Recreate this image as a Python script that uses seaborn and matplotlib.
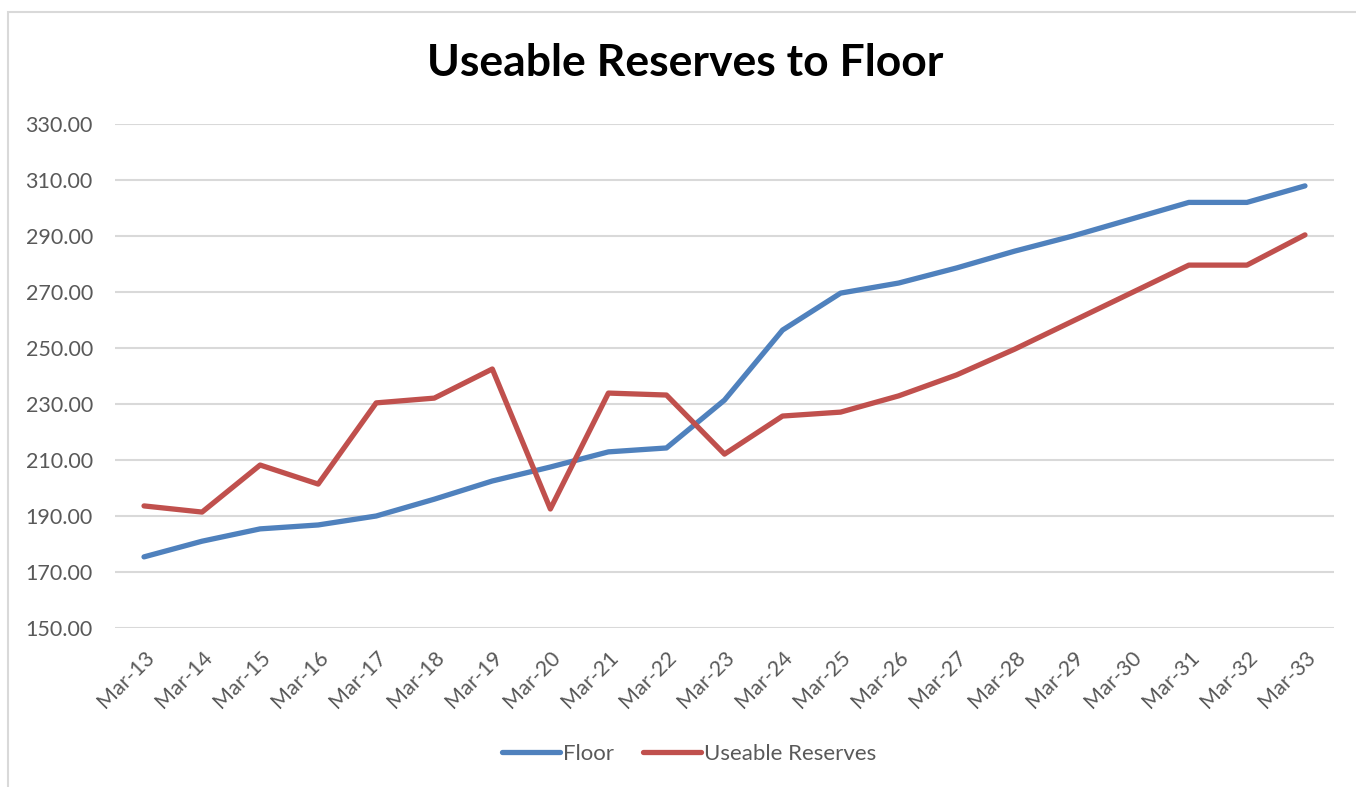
import matplotlib
matplotlib.use("Agg")
import matplotlib.pyplot as plt
import seaborn as sns
import pandas as pd
from matplotlib.patches import Rectangle
from matplotlib.lines import Line2D

periods = ["Mar-13", "Mar-14", "Mar-15", "Mar-16", "Mar-17", "Mar-18", "Mar-19",
           "Mar-20", "Mar-21", "Mar-22", "Mar-23", "Mar-24", "Mar-25", "Mar-26",
           "Mar-27", "Mar-28", "Mar-29", "Mar-30", "Mar-31", "Mar-32", "Mar-33"]
floor = [175.4, 181.0, 185.4, 186.8, 190.0, 196.0, 202.5, 207.5, 212.9, 214.3,
         231.4, 256.4, 269.6, 273.2, 278.6, 284.6, 290.0, 296.0, 302.0, 302.0, 307.9]
reserves = [193.6, 191.4, 208.2, 201.4, 230.4, 232.1, 242.5, 192.5, 233.9, 233.2,
            212.1, 225.7, 227.1, 232.9, 240.4, 249.6, 259.6, 269.6, 279.6, 279.6, 290.4]
yticks = [150, 170, 190, 210, 230, 250, 270, 290, 310, 330]

df = pd.DataFrame({
    "x": list(range(len(periods))) * 2,
    "value": floor + reserves,
    "series": ["Floor"] * len(periods) + ["Useable Reserves"] * len(periods),
})

sns.set_theme(style="white")
plt.rcParams["font.family"] = ["Lato", "DejaVu Sans"]

fig = plt.figure(figsize=(13.56, 7.87), dpi=100)
ax = fig.add_axes([115/1356, 1-628/787, (1334-115)/1356, (628-124)/787])

sns.lineplot(data=df, x="x", y="value", hue="series",
             palette={"Floor": "#4F81BD", "Useable Reserves": "#C0504D"},
             linewidth=3.8, ax=ax, legend=False, zorder=3)
for line in ax.get_lines():
    line.set_solid_capstyle("round")
    line.set_solid_joinstyle("round")

ax.set_xlim(-0.5, len(periods) - 0.5)
ax.set_ylim(150, 330)
ax.set_yticks(yticks)
ax.set_yticklabels([f"{v:.2f}" for v in yticks], fontsize=15.5, color="#595959")
ax.set_xticks(range(len(periods)))
ax.set_xticklabels(periods, rotation=45, ha="right", rotation_mode="anchor",
                   fontsize=15.5, color="#595959")
ax.tick_params(axis="x", length=0, pad=14)
ax.tick_params(axis="y", length=0, pad=16)
ax.grid(axis="y", color="#D9D9D9", linewidth=1.5)
ax.set_axisbelow(True)
for s in ax.spines.values():
    s.set_visible(False)
ax.set_xlabel("")
ax.set_ylabel("")

fig.text(685/1356, 1-63/787, "Useable Reserves to Floor", ha="center", va="center",
         fontsize=32, fontweight="bold", color="black")

handles = [Line2D([0], [0], color="#4F81BD", lw=3.8, solid_capstyle="round"),
           Line2D([0], [0], color="#C0504D", lw=3.8, solid_capstyle="round")]
fig.legend(handles, ["Floor", "Useable Reserves"], loc="center",
           bbox_to_anchor=(689/1356, 1-754/787), ncol=2, frameon=False,
           fontsize=16, handlelength=2.6, handletextpad=0.15, columnspacing=1.3,
           labelcolor="#595959")

# outer chart frame
fig.add_artist(Rectangle((8/1356, -0.01), 1.1, 1-12/787 + 0.01, transform=fig.transFigure,
                         fill=False, edgecolor="#D9D9D9", linewidth=1.5))

fig.savefig("out.png", dpi=100, facecolor="white")
